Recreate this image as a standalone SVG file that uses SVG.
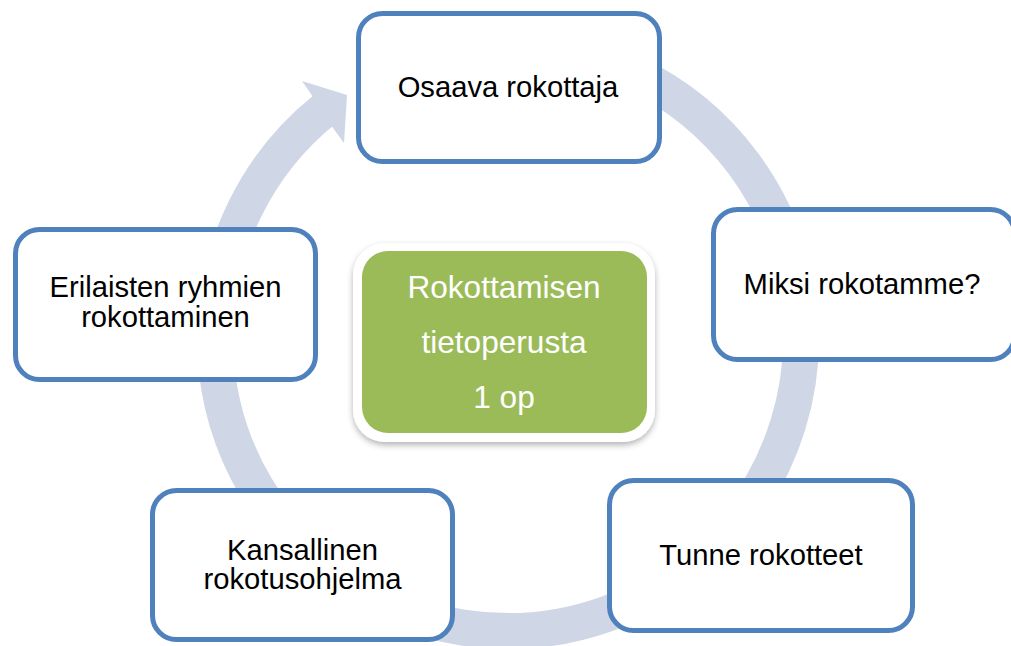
<svg xmlns="http://www.w3.org/2000/svg" width="1011" height="646" viewBox="0 0 1011 646">
<style>
.node rect{fill:#fff;stroke:#4F81BD;stroke-width:5}
.lbl{font-family:"Liberation Sans",Arial,sans-serif;font-size:29.2px;fill:#000;text-anchor:middle}
.clbl{font-family:"Liberation Sans",Arial,sans-serif;font-size:31.6px;fill:#fff;text-anchor:middle}
</style>
<defs>
<filter id="sh" x="-10%" y="-10%" width="120%" height="130%">
<feDropShadow dx="0" dy="3" stdDeviation="3" flood-color="#000" flood-opacity="0.3"/>
</filter>
</defs>
<rect width="1011" height="646" fill="#fff"/>
<g id="connectors">
<path d="M508 45 A293 293 0 1 1 324.9 109.3" fill="none" stroke="#CFD6E6" stroke-width="36"/>
<polygon points="313,97 302,81 347,95 344,143 333,128" fill="#CFD6E6"/>
</g>
<g id="center">
<rect x="353" y="243" width="302" height="199" rx="32" fill="#fff" filter="url(#sh)"/>
<rect x="362" y="251" width="285" height="182" rx="26" fill="#9BBB59"/>
<text class="clbl" x="504" y="298">Rokottamisen</text>
<text class="clbl" x="504" y="353">tietoperusta</text>
<text class="clbl" x="504" y="408">1 op</text>
</g>
<g id="n-osaava" class="node">
<rect x="358.5" y="13.5" width="301" height="148" rx="24"/>
<text class="lbl" x="508" y="97">Osaava rokottaja</text>
</g>
<g id="n-miksi" class="node">
<rect x="713.5" y="209.5" width="301" height="150" rx="24"/>
<text class="lbl" x="862" y="294">Miksi rokotamme?</text>
</g>
<g id="n-tunne" class="node">
<rect x="609.5" y="480.5" width="303" height="150" rx="24"/>
<text class="lbl" x="761" y="565">Tunne rokotteet</text>
</g>
<g id="n-kansallinen" class="node">
<rect x="152.5" y="490.5" width="300" height="149" rx="24"/>
<text class="lbl" x="302.5" y="560">Kansallinen</text>
<text class="lbl" x="302.5" y="589">rokotusohjelma</text>
</g>
<g id="n-erilaisten" class="node">
<rect x="15.5" y="229.5" width="300" height="150" rx="24"/>
<text class="lbl" x="165.5" y="297">Erilaisten ryhmien</text>
<text class="lbl" x="165.5" y="327">rokottaminen</text>
</g>
</svg>
